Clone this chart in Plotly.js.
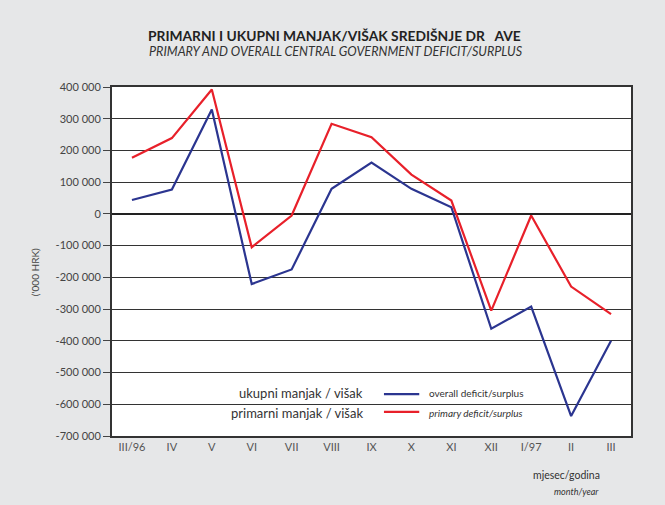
<!DOCTYPE html>
<html>
<head>
<meta charset="utf-8">
<script src="https://cdn.plot.ly/plotly-3.0.1.min.js"></script>
<style>html,body{margin:0;padding:0;background:#e6e7e8;}#chart{width:665px;height:505px;}</style>
</head>
<body>
<div id="chart"></div>
<script>
const months = ['III/96','IV','V','VI','VII','VIII','IX','X','XI','XII','I/97','II','III'];
const overall = [44000, 77000, 329000, -221000, -175000, 79000, 162000, 79000, 21000, -362000, -292000, -637000, -400000];
const primary = [177000, 239000, 392000, -105000, -5000, 284000, 242000, 124000, 42000, -305000, -5000, -229000, -316000];
const yTicks = [400000, 300000, 200000, 100000, 0, -100000, -200000, -300000, -400000, -500000, -600000, -700000];
const yTickText = ['400 000','300 000','200 000','100 000','0','-100 000','-200 000','-300 000','-400 000','-500 000','-600 000','-700 000'];

const blue = '#2b3590';
const red = '#e8202a';
const FONT = 'Lato, "Open Sans", sans-serif';

const idx = months.map((m, i) => i);

const traces = [
  {x: idx, y: overall, type: 'scatter', mode: 'lines', line: {color: blue, width: 2.2}, showlegend: false, hoverinfo: 'skip'},
  {x: idx, y: primary, type: 'scatter', mode: 'lines', line: {color: red, width: 2.2}, showlegend: false, hoverinfo: 'skip'}
];

const layout = {
  width: 665, height: 505,
  paper_bgcolor: '#e6e7e8',
  plot_bgcolor: '#ffffff',
  margin: {l: 112, r: 34, t: 87, b: 69},
  font: {family: FONT, color: '#444'},
  showlegend: false,
  xaxis: {
    range: [-0.5, 12.5],
    tickvals: idx, ticktext: months,
    showgrid: false, zeroline: false,
    ticks: '', tickfont: {size: 11, color: '#555', family: FONT},
    showline: true, linecolor: '#333', linewidth: 2, mirror: true,
    fixedrange: true
  },
  yaxis: {
    range: [-700000, 400000],
    tickvals: yTicks, ticktext: yTickText,
    showgrid: true, gridcolor: '#333', gridwidth: 1,
    zeroline: true, zerolinecolor: '#222', zerolinewidth: 1.3,
    ticks: 'outside', ticklen: 7, tickcolor: '#444', tickwidth: 1,
    tickfont: {size: 11, color: '#444', family: FONT},
    showline: true, linecolor: '#333', linewidth: 2, mirror: true,
    fixedrange: true
  },
  annotations: [
    {xref: 'paper', yref: 'paper', x: 0.429, y: 1.147, xanchor: 'center', yanchor: 'middle', showarrow: false,
     text: '<b>PRIMARNI I UKUPNI MANJAK/VIŠAK SREDIŠNJE DR&nbsp;&nbsp;&nbsp;AVE</b>', font: {size: 13.8, color: '#222', family: FONT}},
    {xref: 'paper', yref: 'paper', x: 0.432, y: 1.101, xanchor: 'center', yanchor: 'middle', showarrow: false,
     text: '<i>PRIMARY AND OVERALL CENTRAL GOVERNMENT DEFICIT/SURPLUS</i>', font: {size: 12.6, color: '#333', family: FONT}},
    {xref: 'paper', yref: 'paper', x: -0.148, y: 0.47, xanchor: 'center', yanchor: 'middle', showarrow: false, textangle: -90,
     text: "('000 HRK)", font: {size: 10, color: '#444', family: FONT}},
    {xref: 'paper', yref: 'paper', x: 0.944, y: -0.112, xanchor: 'right', yanchor: 'middle', showarrow: false,
     text: 'mjesec/godina', font: {size: 10.5, color: '#333', family: FONT}},
    {xref: 'paper', yref: 'paper', x: 0.942, y: -0.160, xanchor: 'right', yanchor: 'middle', showarrow: false,
     text: '<i>month/year</i>', font: {size: 9, color: '#333', family: FONT}},
    {xref: 'paper', yref: 'paper', x: 0.487, y: 0.123, xanchor: 'right', yanchor: 'middle', showarrow: false,
     text: 'ukupni manjak / višak', font: {size: 13, color: '#333', family: FONT}},
    {xref: 'paper', yref: 'paper', x: 0.487, y: 0.066, xanchor: 'right', yanchor: 'middle', showarrow: false,
     text: 'primarni manjak / višak', font: {size: 13, color: '#333', family: FONT}},
    {xref: 'paper', yref: 'paper', x: 0.606, y: 0.123, xanchor: 'left', yanchor: 'middle', showarrow: false,
     text: 'overall deficit/surplus', font: {size: 10, color: '#333', family: FONT}},
    {xref: 'paper', yref: 'paper', x: 0.606, y: 0.066, xanchor: 'left', yanchor: 'middle', showarrow: false,
     text: '<i>primary deficit/surplus</i>', font: {size: 10, color: '#333', family: FONT}}
  ],
  shapes: [
    {type: 'line', xref: 'paper', yref: 'paper', x0: 0.524, x1: 0.592, y0: 0.12, y1: 0.12, line: {color: blue, width: 2.2}},
    {type: 'line', xref: 'paper', yref: 'paper', x0: 0.524, x1: 0.592, y0: 0.069, y1: 0.069, line: {color: red, width: 2.2}}
  ]
};

Plotly.newPlot('chart', traces, layout, {staticPlot: true, displayModeBar: false});
</script>
</body>
</html>
